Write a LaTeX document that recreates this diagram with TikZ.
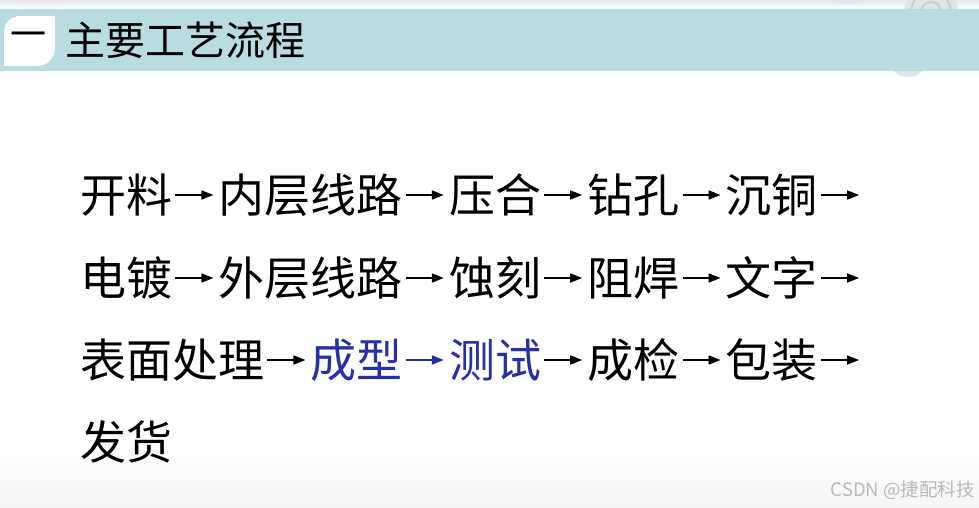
\documentclass[tikz,border=0pt]{standalone}
\usepackage{fontspec}
\setmainfont{Noto Sans CJK SC}
\usetikzlibrary{arrows.meta, positioning}

\definecolor{bandteal}{RGB}{185,220,224}
\definecolor{stepblue}{RGB}{40,48,168}

\tikzset{
    proc/.style={inner sep=0pt, text height=40.5pt, text depth=5.5pt,
        font=\fontsize{46pt}{46pt}\selectfont},
    flow/.style={-{Triangle[length=12pt,width=9pt]}, line width=1.7pt,
        shorten <=3pt, shorten >=5pt},
}

\begin{document}
\begin{tikzpicture}[x=1pt, y=1pt, line join=round]
    \useasboundingbox (0,0) rectangle (979,-508);
    \fill[white] (0,0) rectangle (979,-508);
    
    % top strip and faint decoration
    \shade[top color=gray!18, bottom color=white] (0,0) rectangle (979,-9);
    \shade[top color=white, bottom color=gray!8] (0,-450) rectangle (979,-508);
    \fill[gray!22] (908,-58) circle (19);
    \fill[gray!20] (847,12) ellipse (32 and 16);
    \draw[white, thick, dashed] (847,12) ellipse (26 and 12);
    \fill[gray!22] (931,-12) circle (27);
    \draw[gray!40, line width=2pt] (931,-12) circle (20);
    \draw[gray!40, line width=2pt] (931,-12) circle (10);
    
    % title band
    \fill[bandteal] (0,-9) rectangle (979,-71);
    \fill[white] (4,-66) -- (4,-32) arc[start angle=180, end angle=90, radius=16]
        -- (55,-16) -- (55,-48) arc[start angle=0, end angle=-90, radius=18] -- cycle;
    \node[inner sep=0pt, font=\fontsize{36pt}{36pt}\selectfont] (num) at (28,-40) {一};
    \node[inner sep=0pt, anchor=west, text height=35pt, text depth=5pt,
        font=\fontsize{40pt}{40pt}\selectfont] (title) at (65,-41) {主要工艺流程};
    
    % row 1
    \node[proc, anchor=west] (a1) at (80,-195) {开料};
    \node[proc, right=46pt of a1] (a2) {内层线路};
    \node[proc, right=46pt of a2] (a3) {压合};
    \node[proc, right=46pt of a3] (a4) {钻孔};
    \node[proc, right=46pt of a4] (a5) {沉铜};
    \coordinate[right=46pt of a5] (a6);
    
    % row 2
    \node[proc, anchor=west] (b1) at (80,-278) {电镀};
    \node[proc, right=46pt of b1] (b2) {外层线路};
    \node[proc, right=46pt of b2] (b3) {蚀刻};
    \node[proc, right=46pt of b3] (b4) {阻焊};
    \node[proc, right=46pt of b4] (b5) {文字};
    \coordinate[right=46pt of b5] (b6);
    
    % row 3
    \node[proc, anchor=west] (c1) at (80,-360) {表面处理};
    \node[proc, right=46pt of c1, text=stepblue] (c2) {成型};
    \node[proc, right=46pt of c2, text=stepblue] (c3) {测试};
    \node[proc, right=46pt of c3] (c4) {成检};
    \node[proc, right=46pt of c4] (c5) {包装};
    \coordinate[right=46pt of c5] (c6);
    
    % row 4
    \node[proc, anchor=west] (d1) at (80,-442) {发货};
    
    \foreach \r in {a,b,c}{
        \draw[flow] (\r1) -- (\r2);
        \draw[flow] (\r3) -- (\r4);
        \draw[flow] (\r4) -- (\r5);
        \draw[flow] (\r5) -- (\r6);
    }
    \draw[flow] (a2) -- (a3);
    \draw[flow] (b2) -- (b3);
    \draw[flow, stepblue] (c2) -- (c3);
    
    \node[inner sep=0pt, anchor=east, text=gray!55,
        font=\fontsize{18.5pt}{18.5pt}\selectfont] (mark) at (975,-490) {CSDN @捷配科技};
\end{tikzpicture}
\end{document}
